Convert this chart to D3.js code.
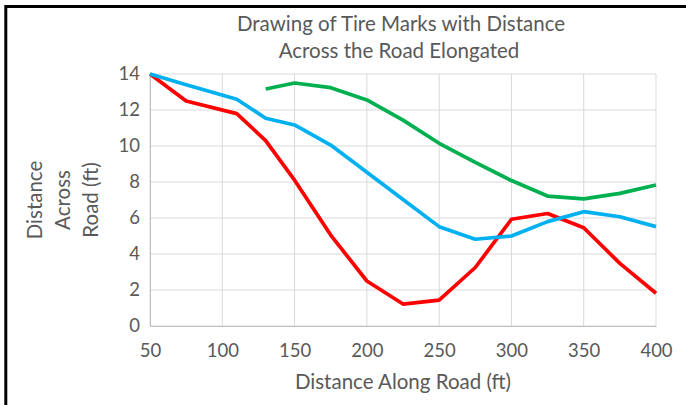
<!DOCTYPE html>
<html lang="en">
<head>
    <meta charset="UTF-8">
    <title>Drawing of Tire Marks with Distance Across the Road Elongated</title>
    <script src="https://d3js.org/d3.v7.min.js"></script>
    <style>
        body {
            margin: 0;
            background: white;
            font-family: Lato, "Open Sans", sans-serif;
        }
        .tick text {
            fill: #595959;
            font-size: 18.5px;
            font-family: Lato, sans-serif;
        }
        .axis-label {
            fill: #595959;
            font-size: 20.5px;
        }
        .title {
            fill: #595959;
            font-size: 20.5px;
        }
        .line {
            fill: none;
            stroke-width: 3.7;
            stroke-linejoin: round;
        }
    </style>
</head>
<body>
    <div id="chart"></div>

    <script>
        // distance along road (ft)
        const alongRoad = [50, 75, 110, 130, 150, 175, 200, 225, 250, 275, 300, 325, 350, 375, 400];
        // distance across road (ft) for each tire mark
        const redMark   = [14, 12.5, 11.8, 10.3, 8.1, 5.05, 2.5, 1.22, 1.44, 3.25, 5.93, 6.25, 5.46, 3.48, 1.82];
        const blueMark  = [14, 13.4, 12.6, 11.54, 11.17, 10.05, 8.54, 7.03, 5.52, 4.82, 5.0, 5.8, 6.35, 6.07, 5.52];
        const greenMark = [null, null, null, 13.17, 13.5, 13.24, 12.56, 11.44, 10.15, 9.09, 8.08, 7.22, 7.06, 7.37, 7.83];

        const xTicks = [50, 100, 150, 200, 250, 300, 350, 400];
        const yTicks = [0, 2, 4, 6, 8, 10, 12, 14];

        const series = [
            {name: 'red', color: '#FF0000', values: redMark},
            {name: 'blue', color: '#00B0F0', values: blueMark},
            {name: 'green', color: '#00B050', values: greenMark}
        ];

        const W = 686, H = 405;
        const margin = {top: 74, right: 30, bottom: 79, left: 150};
        const width = W - margin.left - margin.right;
        const height = H - margin.top - margin.bottom;

        const root = d3.select('#chart')
            .append('svg')
            .attr('width', W)
            .attr('height', H);

        // outer border (only top and left are visible in the frame)
        root.append('line')
            .attr('x1', 5.8).attr('x2', W + 5)
            .attr('y1', 6.5).attr('y2', 6.5)
            .attr('stroke', '#000').attr('stroke-width', 3);
        root.append('line')
            .attr('x1', 5.8).attr('x2', 5.8)
            .attr('y1', 5).attr('y2', H + 5)
            .attr('stroke', '#000').attr('stroke-width', 3);

        // title
        root.append('text')
            .attr('class', 'title')
            .attr('x', 401)
            .attr('y', 31)
            .attr('text-anchor', 'middle')
            .text('Drawing of Tire Marks with Distance');
        root.append('text')
            .attr('class', 'title')
            .attr('x', 399)
            .attr('y', 58)
            .attr('text-anchor', 'middle')
            .text('Across the Road Elongated');

        const svg = root.append('g')
            .attr('transform', `translate(${margin.left},${margin.top})`);

        const x = d3.scaleLinear()
            .domain([50, 400])
            .range([0, width]);

        const y = d3.scaleLinear()
            .domain([0, 14])
            .range([height, 0]);

        // gridlines
        svg.append('g')
            .selectAll('line')
            .data(yTicks)
            .enter().append('line')
            .attr('x1', 0).attr('x2', width)
            .attr('y1', d => y(d)).attr('y2', d => y(d))
            .attr('stroke', '#D9D9D9');

        svg.append('g')
            .selectAll('line')
            .data(xTicks)
            .enter().append('line')
            .attr('x1', d => x(d)).attr('x2', d => x(d))
            .attr('y1', 0).attr('y2', height)
            .attr('stroke', '#D9D9D9');

        // axes
        const xAxis = svg.append('g')
            .attr('transform', `translate(0,${height})`)
            .call(d3.axisBottom(x).tickValues(xTicks).tickSize(0).tickPadding(18));
        xAxis.select('.domain').attr('stroke', '#BFBFBF');

        const yAxis = svg.append('g')
            .call(d3.axisLeft(y).tickValues(yTicks).tickSize(0).tickPadding(10));
        yAxis.select('.domain').attr('stroke', '#BFBFBF');

        // lines
        const line = d3.line()
            .defined(d => d[1] != null)
            .x(d => x(d[0]))
            .y(d => y(d[1]));

        series.forEach(s => {
            svg.append('path')
                .datum(alongRoad.map((a, i) => [a, s.values[i]]))
                .attr('class', 'line')
                .attr('stroke', s.color)
                .attr('d', line);
        });

        // x axis label
        root.append('text')
            .attr('class', 'axis-label')
            .attr('x', 403)
            .attr('y', 389)
            .attr('text-anchor', 'middle')
            .text('Distance Along Road (ft)');

        // y axis label (three stacked lines)
        const yLabelLines = ['Distance', 'Across', 'Road (ft)'];
        const yLabel = root.append('text')
            .attr('class', 'axis-label')
            .attr('transform', 'translate(0,200) rotate(-90)')
            .attr('text-anchor', 'middle');
        yLabel.selectAll('tspan')
            .data(yLabelLines)
            .enter().append('tspan')
            .attr('x', 0)
            .attr('y', (d, i) => 42 + i * 28)
            .text(d => d);
    </script>
</body>
</html>
